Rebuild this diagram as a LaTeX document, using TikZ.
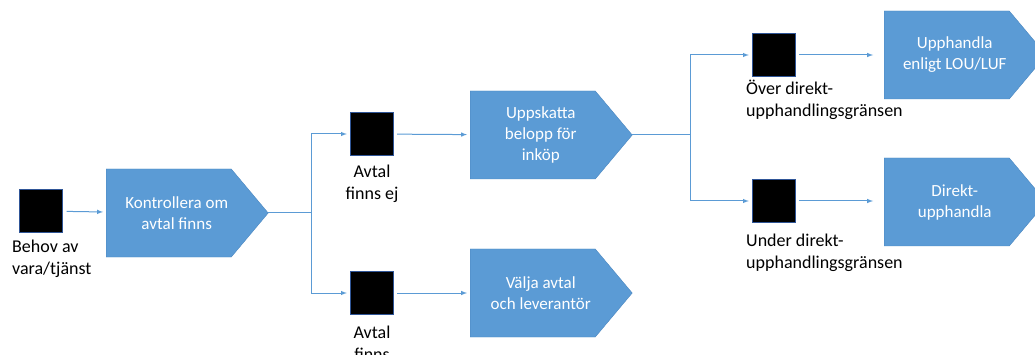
\documentclass[tikz,border=0pt]{standalone}
\usepackage{fontspec}
\setmainfont{Carlito}
\usetikzlibrary{shapes.symbols}
\definecolor{stageblue}{HTML}{5B9BD5}
\definecolor{stageedge}{HTML}{4A86C0}
\definecolor{boxedge}{HTML}{2F5597}
\begin{document}
\begin{tikzpicture}[x=1pt, y=-1pt]
	\tikzstyle{box}=[rectangle, draw=boxedge, fill=black, minimum size=43pt, inner sep=0pt]
	\tikzstyle{stage}=[signal, signal to=east, signal pointer angle=100, draw=stageedge, fill=stageblue, minimum width=162pt, minimum height=88pt, inner sep=0pt, anchor=west]
	\tikzstyle{stagetext}=[text=white, align=center, inner sep=0pt, xshift=8pt, font=\fontsize{17}{21}\selectfont]
	\tikzstyle{note}=[inner sep=0pt, font=\fontsize{18}{21.5}\selectfont]
	\tikzstyle{flow}=[stageblue, line width=1pt, -latex, shorten >=3pt, shorten <=4pt]
	\clip (0,0) rectangle (1035,355);
	% Squares
	\foreach \n/\x/\y in {need/41/211, noagr/371.5/134, agr/371.5/293, over/773.5/55, under/773.5/201}
		\node at (\x, \y) [box] (\n) {};
	% Labels
	\node at (12, 240) [note, anchor=north west, align=left] (need_l) {Behov av\\vara/tjänst};
	\node at (372, 165) [note, anchor=north, align=center] (noagr_l) {Avtal\\finns ej};
	\node at (372, 326) [note, anchor=north, align=center] (agr_l) {Avtal\\finns};
	\node at (746, 80) [note, anchor=north west, align=left] (over_l) {Över direkt-\\upphandlingsgränsen};
	\node at (746, 234) [note, anchor=north west, align=left] (under_l) {Under direkt-\\upphandlingsgränsen};
	% Steps
	\node at (106, 213) [stage, label={[stagetext]center:Kontrollera om\\avtal finns}] (check) {};
	\node at (470, 135) [stage, label={[stagetext]center:Uppskatta\\belopp för\\inköp}] (estimate) {};
	\node at (470, 293) [stage, label={[stagetext]center:Välja avtal\\och leverantör}] (choose) {};
	\node at (884, 55) [stage, label={[stagetext]center:Upphandla\\enligt LOU/LUF}] (procure) {};
	\node at (884, 202) [stage, label={[stagetext]center:Direkt-\\upphandla}] (direct) {};
	%---------------------%
	\coordinate (split_1) at (311, 213);
	\coordinate (split_2) at (690, 135);
	% Need -> Check
	\draw [flow] (need) -- (check);
	% Check -> agreement or not
	\draw [stageblue, line width=1pt] (check.east) -- (split_1);
	\foreach \t in {noagr, agr}
		\draw [flow, shorten <=0pt] (split_1) |- (\t);
	\draw [flow] (noagr) -- (estimate);
	\draw [flow] (agr) -- (choose);
	% Estimate -> over or under
	\draw [stageblue, line width=1pt] (estimate.east) -- (split_2);
	\foreach \t in {over, under}
		\draw [flow, shorten <=0pt] (split_2) |- (\t);
	\draw [flow, shorten >=11pt] (over) -- (over -| procure.west);
	\draw [flow, shorten >=11pt] (under) -- (under -| direct.west);
	%---------------------%
\end{tikzpicture}
\end{document}
